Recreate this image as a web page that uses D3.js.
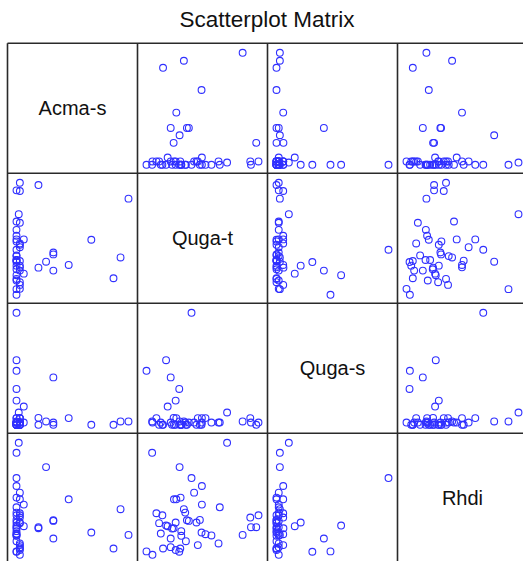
<!DOCTYPE html>
<html>
<head>
<meta charset="utf-8">
<script src="https://cdn.jsdelivr.net/npm/d3@7"></script>
<style>
  html, body { margin: 0; padding: 0; background: #fff; }
  svg { display: block; }
</style>
</head>
<body>
<svg id="chart" width="523" height="561"></svg>
<script>
// Species abundance data, one entry per plot
const variables = ["Acma-s", "Quga-t", "Quga-s", "Rhdi"];

const acmaS = [3, 19.6, 0, 3, 100, 2, 0, 3, 0, 0, 66.8, 0, 6.5, 0, 3, 3, 3, 0, 32.9, 32.9,
  0, 0, 92.9, 0, 3, 0, 0, 0, 26.4, 3, 3, 32.9, 19.6, 0, 46.6, 3, 6.5, 0, 86.6, 0,
  3, 0, 3, 3, 0, 0, 0];
const qugaT = [99.5, 97.5, 92.8, 92.2, 85.4, 71.6, 65.1, 64.0, 57.7, 52.4, 48.9, 47.4, 49.2, 49.2, 45.6, 44.4, 42.3, 40.0, 37.6, 35.9,
  35.0, 34.4, 33.2, 29.1, 30.0, 30.9, 30.9, 30.3, 29.4, 25.9, 21.5, 21.5, 24.1, 25.9, 26.5, 24.4, 18.8, 17.4, 14.7, 12.7,
  11.2, 14.1, 8.8, 5.3, 0, 5.0, 22.7];
const qugaS = [2, 0, 2, 6, 3, 11, 2, 2, 2, 6, 0, 0, 2, 6, 6, 0, 2, 100, 2, 0,
  0, 2, 3, 32, 0, 0, 0, 0, 3, 0, 2, 42.3, 6.2, 21.6, 6, 0, 16.3, 57.7, 0, 2,
  0, 0, 6, 2, 48.2, 3, 0];
const rhdi = [35.5, 24.9, 24.9, 33.5, 18.1, 99.9, 42.6, 10.5, 17.6, 18.7, 20.2, 31.4, 45.0, 61.5, 9.0, 29.1, 55.6, 68.6, 30.5, 31.1,
  12.5, 37.9, 40.9, 3.1, 6.0, 17.3, 21.4, 51.2, 78.3, 4.6, 7.2, 14.9, 24.0, 29.1, 49.7, 49.7, 25.8, 26.4, 6.0, 19.3,
  28.5, 35.5, 37.3, 0.4, 3.4, 91.0, 23.7];

const columns = [acmaS, qugaT, qugaS, rhdi];
const rows = d3.range(rhdi.length).map(i => columns.map(c => c[i]));

const svg = d3.select("#chart");
const gridLeft = 7.5, gridTop = 43.3, size = 130, n = variables.length;
const pad = 9;

// one linear scale per variable, shared by every panel that uses it
const xScales = columns.map(c => d3.scaleLinear().domain(d3.extent(c)).range([pad, size - pad]));
const yScales = columns.map(c => d3.scaleLinear().domain(d3.extent(c)).range([size - pad + 0.5, pad + 0.5]));

svg.append("text")
  .attr("x", 267)
  .attr("y", 26.5)
  .attr("text-anchor", "middle")
  .style("font-family", "'Liberation Sans', Arial, sans-serif")
  .style("font-size", "22.5px")
  .style("fill", "#111")
  .text("Scatterplot Matrix");

const cells = [];
for (let r = 0; r < n; r++) for (let c = 0; c < n; c++) cells.push({ r, c });

const cell = svg.selectAll("g.cell")
  .data(cells)
  .join("g")
  .attr("class", "cell")
  .attr("transform", d => `translate(${gridLeft + d.c * size},${gridTop + d.r * size})`);

// variable names on the diagonal
cell.filter(d => d.r === d.c)
  .append("text")
  .attr("x", size / 2)
  .attr("y", size / 2)
  .attr("dy", "0.35em")
  .attr("text-anchor", "middle")
  .style("font-family", "'Liberation Sans', Arial, sans-serif")
  .style("font-size", "20px")
  .style("fill", "#111")
  .text(d => variables[d.r]);

// open circles in the off-diagonal panels
cell.filter(d => d.r !== d.c)
  .each(function (d) {
    d3.select(this).selectAll("circle")
      .data(rows)
      .join("circle")
      .attr("cx", p => xScales[d.c](p[d.c]))
      .attr("cy", p => yScales[d.r](p[d.r]))
      .attr("r", 3.4)
      .attr("fill", "none")
      .attr("stroke", "#3030ff")
      .attr("stroke-width", 1.1);
  });

// panel frame
const grid = svg.append("g")
  .attr("stroke", "#2a2a2a")
  .attr("stroke-width", 1.6)
  .attr("fill", "none");
d3.range(n + 1).forEach(k => {
  grid.append("line")
    .attr("x1", gridLeft + k * size).attr("x2", gridLeft + k * size)
    .attr("y1", gridTop).attr("y2", gridTop + n * size);
  grid.append("line")
    .attr("x1", gridLeft).attr("x2", gridLeft + n * size)
    .attr("y1", gridTop + k * size).attr("y2", gridTop + k * size);
});
</script>
</body>
</html>
